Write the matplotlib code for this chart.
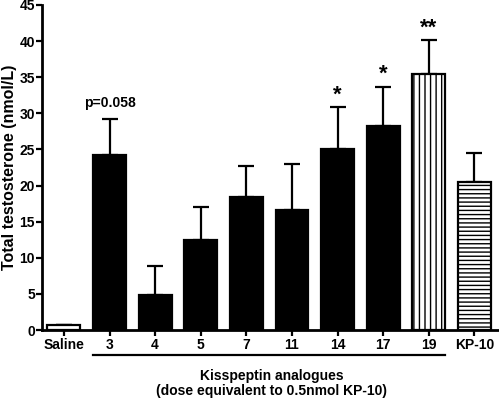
import numpy as np
import matplotlib
matplotlib.use("Agg")
import matplotlib.pyplot as plt
import matplotlib.transforms as mtransforms

plt.rcParams['font.family'] = ['Liberation Sans', 'DejaVu Sans']
plt.rcParams['font.weight'] = 'bold'
plt.rcParams['hatch.linewidth'] = 1.0

# data
groups = ['Saline', '3', '4', '5', '7', '11', '14', '17', '19', 'KP-10']
means = [0.7, 24.2, 4.9, 12.5, 18.4, 16.6, 25.1, 28.3, 35.5, 20.5]
upper = [0.7, 29.2, 8.8, 17.1, 22.7, 23.0, 30.9, 33.7, 40.2, 24.5]
fills = ['white', 'black', 'black', 'black', 'black', 'black', 'black', 'black', 'white', 'white']
hatches = ['', '', '', '', '', '', '', '', '|||', '----']
marks = {'3': 'p=0.058', '14': '*', '17': '*', '19': '**'}

fig = plt.figure(figsize=(4.99, 3.98), dpi=100)
ax = fig.add_axes([42 / 499, 68 / 398, 457 / 499, 325 / 398])

x = np.arange(len(groups))
err = np.array(upper) - np.array(means)

ax.errorbar(x, means, yerr=[np.zeros(len(x)), err], fmt='none', ecolor='black',
            elinewidth=1.6, capsize=6, capthick=1.6, zorder=2)
bars = ax.bar(x, means, width=0.72, color=fills, edgecolor='black', linewidth=1.6, zorder=3)
for b, h in zip(bars, hatches):
    if h:
        b.set_hatch(h)

for i, g in enumerate(groups):
    if g in marks:
        txt = marks[g]
        if txt.startswith('p'):
            ax.text(i, upper[i] + 1.3, txt, ha='center', va='bottom', fontsize=10, fontweight='bold')
        else:
            ax.text(i, upper[i] + 0.2, txt, ha='center', va='bottom', fontsize=16, fontweight='bold')

ax.set_xlim(-0.48, 9.54)
ax.set_ylim(0, 45)
ax.set_yticks(np.arange(0, 46, 5))
ax.set_xticks(x)
ax.set_xticklabels(groups, fontsize=10, fontweight='bold')
ax.tick_params(axis='y', labelsize=10, width=1.6, length=4, pad=1)
ax.tick_params(axis='x', width=1.6, length=4, pad=2)
for lbl in ax.get_yticklabels():
    lbl.set_fontweight('bold')

ax.spines['top'].set_visible(False)
ax.spines['right'].set_visible(False)
ax.spines['left'].set_linewidth(2)
ax.spines['bottom'].set_linewidth(2)

ax.set_ylabel('Total testosterone (nmol/L)', fontsize=11.5, fontweight='bold', labelpad=2)

trans = mtransforms.blended_transform_factory(ax.transData, ax.transAxes)
ax.plot([0.64, 8.36], [-0.077, -0.077], color='black', lw=1.6, transform=trans, clip_on=False)
ax.text(4.55, -0.12, 'Kisspeptin analogues\n(dose equivalent to 0.5nmol KP-10)', transform=trans,
        ha='center', va='top', fontsize=10, fontweight='bold', linespacing=1.1)

fig.savefig('out.png', dpi=100)
